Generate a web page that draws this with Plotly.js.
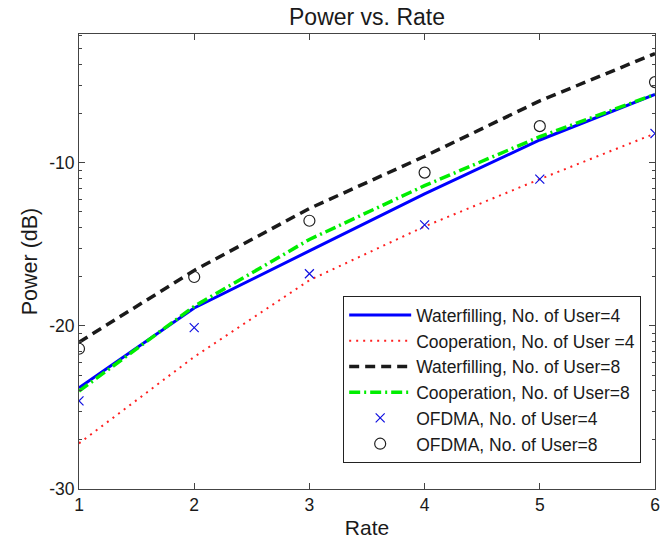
<!DOCTYPE html>
<html>
<head>
<meta charset="utf-8">
<script src="https://cdn.plot.ly/plotly-3.0.1.min.js"></script>
<style>html,body{margin:0;padding:0;background:#fff;}#chart{width:671px;height:539px;}</style>
</head>
<body>
<div id="chart"></div>
<script>
const rate = [1, 2, 3, 4, 5, 6];
const waterfilling4 = [-23.8, -18.9, -15.4, -11.9, -8.6, -5.8];
const cooperation4 = [-27.2, -21.9, -17.2, -13.9, -11.0, -8.2];
const waterfilling8 = [-21.0, -16.6, -12.8, -9.6, -6.2, -3.3];
const cooperation8 = [-24.0, -18.8, -14.7, -11.4, -8.4, -5.8];
const ofdma4 = [-24.6, -20.1, -16.8, -13.8, -11.0, -8.2];
const ofdma8 = [-21.4, -17.0, -13.55, -10.6, -7.75, -5.05];
const names = [
  'Waterfilling, No. of User=4',
  'Cooperation, No. of User =4',
  'Waterfilling, No. of User=8',
  'Cooperation, No. of User=8',
  'OFDMA, No. of User=4',
  'OFDMA, No. of User=8'
];
const yTickVals = [-30, -20, -10];
const yMinorVals = [-26.99, -25.23, -23.98, -23.01, -22.22, -21.55, -20.97, -20.46,
  -16.99, -15.23, -13.98, -13.01, -12.22, -11.55, -10.97, -10.46,
  -6.99, -5.23, -3.98, -3.01, -2.22];

const traces = [
  {x: rate, y: waterfilling4, name: names[0], mode: 'lines', line: {color: '#0000ff', width: 3}},
  {x: rate, y: cooperation4, name: names[1], mode: 'lines', line: {color: '#ff2020', width: 2, dash: '2px,5px'}},
  {x: rate, y: waterfilling8, name: names[2], mode: 'lines', line: {color: '#1a1a1a', width: 3.5, dash: '10px,6px'}},
  {x: rate, y: cooperation8, name: names[3], mode: 'lines', line: {color: '#00ee00', width: 3.5, dash: '11px,4px,2px,4px'}},
  {x: rate, y: ofdma4, name: names[4], mode: 'markers', marker: {symbol: 'x-thin-open', size: 9, color: '#1010e0', line: {width: 1.2, color: '#1010e0'}}},
  {x: rate, y: ofdma8, name: names[5], mode: 'markers', marker: {symbol: 'circle-open', size: 11, color: '#222', line: {width: 1.2, color: '#222'}}}
];

const layout = {
  width: 671, height: 539,
  margin: {l: 79, r: 16, t: 34, b: 50},
  paper_bgcolor: '#fff', plot_bgcolor: '#fff',
  font: {family: 'Liberation Sans, Arial, sans-serif', color: '#1a1a1a', size: 17},
  title: {text: 'Power vs. Rate', font: {size: 23, color: '#1a1a1a'}, xref: 'paper', x: 0.5, xanchor: 'center', yref: 'container', y: 0.968, yanchor: 'middle'},
  xaxis: {
    range: [1, 6], tickvals: rate, ticktext: rate.map(String),
    ticks: 'inside', ticklen: 6, tickcolor: '#444', mirror: 'ticks',
    showline: true, linecolor: '#444', linewidth: 1, showgrid: false, zeroline: false,
    tickfont: {size: 17.5}, title: {text: 'Rate', font: {size: 21}, standoff: 6}
  },
  yaxis: {
    range: [-30, -2.1], tickvals: yTickVals, ticktext: yTickVals.map(String),
    ticks: 'inside', ticklen: 6, tickcolor: '#444', mirror: 'ticks',
    showline: true, linecolor: '#444', linewidth: 1, showgrid: false, zeroline: false,
    minor: {tickvals: yMinorVals, ticks: 'inside', ticklen: 3, tickcolor: '#444', showgrid: false},
    tickfont: {size: 17.5}, title: {text: 'Power (dB)', font: {size: 21.5}, standoff: 5}
  },
  legend: {
    x: 0.976, y: 0.057, xanchor: 'right', yanchor: 'bottom',
    bgcolor: '#fff', bordercolor: '#222', borderwidth: 1,
    font: {size: 17.5, color: '#1a1a1a'}, itemwidth: 62, tracegroupgap: 0
  },
  showlegend: true
};

Plotly.newPlot('chart', traces, layout, {displayModeBar: false, staticPlot: true});
</script>
</body>
</html>
